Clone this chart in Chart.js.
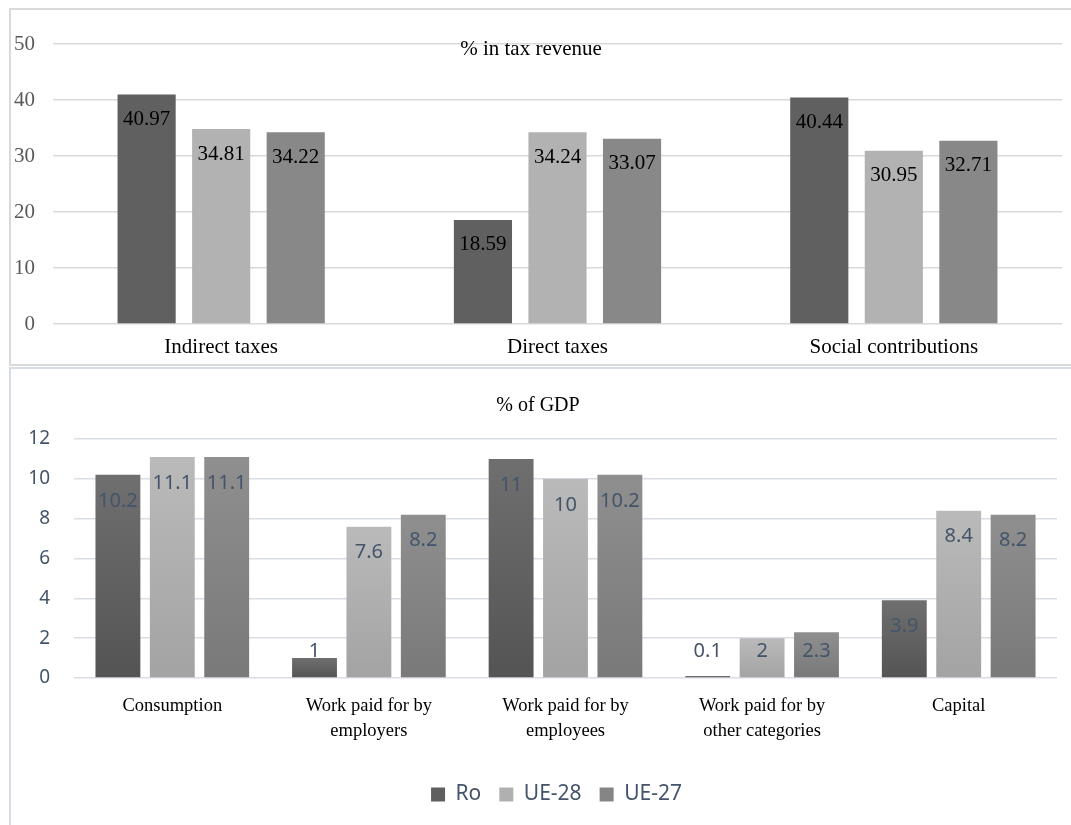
<!DOCTYPE html>
<html>
<head>
<meta charset="utf-8">
<script src="https://cdn.jsdelivr.net/npm/chart.js@4.4.1/dist/chart.umd.min.js"></script>
<style>
  html, body { margin: 0; padding: 0; background: #fff; overflow: hidden; width: 1071px; height: 825px; }
  .box { position: absolute; box-sizing: border-box; }
  #box1 { left: 9px; top: 8px; width: 1100px; height: 358px;
          border-left: 2px solid #d9d9d9; border-top: 2px solid #d9d9d9; border-bottom: 2px solid #d9d9d9; }
  #box2 { left: 9px; top: 367px; width: 1100px; height: 500px;
          border-left: 2px solid #d6dce5; border-top: 2px solid #d6dce5; }
  canvas { position: absolute; left: 0; }
  #chartTax { top: 0; }
  #chartGdp { top: 366px; }
</style>
</head>
<body>
<div class="box" id="box1"></div>
<div class="box" id="box2"></div>
<canvas id="chartTax" width="1071" height="366"></canvas>
<canvas id="chartGdp" width="1071" height="459"></canvas>
<script>
// datos
const seriesNames = ["Ro", "UE-28", "UE-27"];

const taxCategories = ["Indirect taxes", "Direct taxes", "Social contributions"];
const taxRo   = [40.97, 18.59, 40.44];
const taxUE28 = [34.81, 34.24, 30.95];
const taxUE27 = [34.22, 33.07, 32.71];
const taxTicks = [0, 10, 20, 30, 40, 50];

const gdpCategories = [
  "Consumption",
  ["Work paid for by", "employers"],
  ["Work paid for by", "employees"],
  ["Work paid for by", "other categories"],
  "Capital"
];
const gdpRo   = [10.2, 1, 11, 0.1, 3.9];
const gdpUE28 = [11.1, 7.6, 10, 2, 8.4];
const gdpUE27 = [11.1, 8.2, 10.2, 2.3, 8.2];
const gdpTicks = [0, 2, 4, 6, 8, 10, 12];

const SERIF = "'Liberation Serif', 'Times New Roman', serif";
const SANS = "'Noto Sans', 'Open Sans', sans-serif";
const BLUEGRAY = "#44546a";

// etiquetas de valor dentro del extremo de la barra
function valueLabels(font, color, offset) {
  return {
    id: "valueLabels",
    afterDatasetsDraw(chart) {
      const ctx = chart.ctx;
      ctx.save();
      ctx.font = font;
      ctx.fillStyle = color;
      ctx.textAlign = "center";
      ctx.textBaseline = "middle";
      chart.data.datasets.forEach((ds, i) => {
        chart.getDatasetMeta(i).data.forEach((bar, j) => {
          const y = Math.min(bar.y + offset, bar.base - offset);
          ctx.fillText(String(ds.data[j]), bar.x, y);
        });
      });
      ctx.restore();
    }
  };
}

// titulo superpuesto (como en Excel)
function overlayTitle(text, font, x, y) {
  return {
    id: "overlayTitle",
    afterDraw(chart) {
      const ctx = chart.ctx;
      ctx.save();
      ctx.font = font;
      ctx.fillStyle = "#000";
      ctx.textAlign = "center";
      ctx.textBaseline = "middle";
      ctx.fillText(text, x, y);
      ctx.restore();
    }
  };
}

// mueve la leyenda un poco a la derecha
function shiftLegend(dx) {
  return {
    id: "shiftLegend",
    afterLayout(chart) {
      if (!chart.legend) return;
      chart.legend.left += dx;
      chart.legend.right += dx;
    }
  };
}

function barGradient(topColor, bottomColor) {
  return (c) => {
    const chart = c.chart;
    if (c.type !== "data" || !chart.chartArea || !c.parsed) return bottomColor;
    const ys = chart.scales.y;
    const yTop = ys.getPixelForValue(c.parsed.y);
    const yBase = ys.getPixelForValue(0);
    if (!(yBase - yTop > 0.5)) return bottomColor;
    const g = chart.ctx.createLinearGradient(0, yTop, 0, yBase);
    g.addColorStop(0, topColor);
    g.addColorStop(1, bottomColor);
    return g;
  };
}

// grafico 1: % in tax revenue
new Chart(document.getElementById("chartTax"), {
  type: "bar",
  data: {
    labels: taxCategories,
    datasets: [
      { label: seriesNames[0], data: taxRo,   backgroundColor: "#606060" },
      { label: seriesNames[1], data: taxUE28, backgroundColor: "#b2b2b2" },
      { label: seriesNames[2], data: taxUE27, backgroundColor: "#888888" }
    ]
  },
  options: {
    responsive: false,
    animation: false,
    categoryPercentage: 0.665,
    barPercentage: 0.78,
    layout: { padding: { top: 44, right: 9, bottom: 0, left: 0 } },
    plugins: { legend: { display: false }, tooltip: { enabled: false }, title: { display: false } },
    scales: {
      x: {
        grid: { display: false },
        border: { display: false },
        ticks: { color: "#000", padding: 3, font: { family: SERIF, size: 21 } },
        afterFit: (s) => { s.height = 42; }
      },
      y: {
        min: 0, max: 50,
        afterBuildTicks: (s) => { s.ticks = taxTicks.map(v => ({ value: v })); },
        grid: { color: "#d9d9d9", lineWidth: 1.5, drawTicks: false },
        border: { display: false },
        ticks: { color: "#595959", padding: 18, font: { family: SERIF, size: 21 } },
        afterFit: (s) => { s.width = 53; }
      }
    }
  },
  plugins: [
    valueLabels("21px " + SERIF, "#000", 25),
    overlayTitle("% in tax revenue", "21px " + SERIF, 531, 49)
  ]
});

// grafico 2: % of GDP
const legendColors = ["#5f5f5f", "#b0b0b0", "#858585"];

new Chart(document.getElementById("chartGdp"), {
  type: "bar",
  data: {
    labels: gdpCategories,
    datasets: [
      { label: seriesNames[0], data: gdpRo,   backgroundColor: barGradient("#6f6f6f", "#545454") },
      { label: seriesNames[1], data: gdpUE28, backgroundColor: barGradient("#bababa", "#a3a3a3") },
      { label: seriesNames[2], data: gdpUE27, backgroundColor: barGradient("#8f8f8f", "#797979") }
    ]
  },
  options: {
    responsive: false,
    animation: false,
    categoryPercentage: 0.83,
    barPercentage: 0.825,
    layout: { padding: { top: 73, right: 14, bottom: 10, left: 0 } },
    plugins: {
      tooltip: { enabled: false },
      title: { display: false },
      legend: {
        position: "bottom",
        labels: {
          boxWidth: 14, boxHeight: 14, padding: 18,
          color: BLUEGRAY,
          font: { family: SANS, size: 21 },
          generateLabels: (chart) => chart.data.datasets.map((ds, i) => ({
            text: ds.label, fillStyle: legendColors[i], strokeStyle: legendColors[i],
            lineWidth: 0, hidden: false, datasetIndex: i, fontColor: BLUEGRAY
          }))
        }
      }
    },
    scales: {
      x: {
        grid: { display: false },
        border: { display: false },
        ticks: { color: "#000", padding: 8, maxRotation: 0, autoSkip: false,
                 font: { family: SERIF, size: 18.5, lineHeight: 1.35 } },
        afterFit: (s) => { s.height = 88; }
      },
      y: {
        min: 0, max: 12,
        afterBuildTicks: (s) => { s.ticks = gdpTicks.map(v => ({ value: v })); },
        grid: { color: "#d9dee6", lineWidth: 1.5, drawTicks: false },
        border: { display: false },
        ticks: { color: BLUEGRAY, padding: 24, font: { family: SANS, size: 19 } },
        afterFit: (s) => { s.width = 74; }
      }
    }
  },
  plugins: [
    valueLabels("20px " + SANS, BLUEGRAY, 26),
    overlayTitle("% of GDP", "20px " + SERIF, 538, 40),
    shiftLegend(28)
  ]
});
</script>
</body>
</html>
